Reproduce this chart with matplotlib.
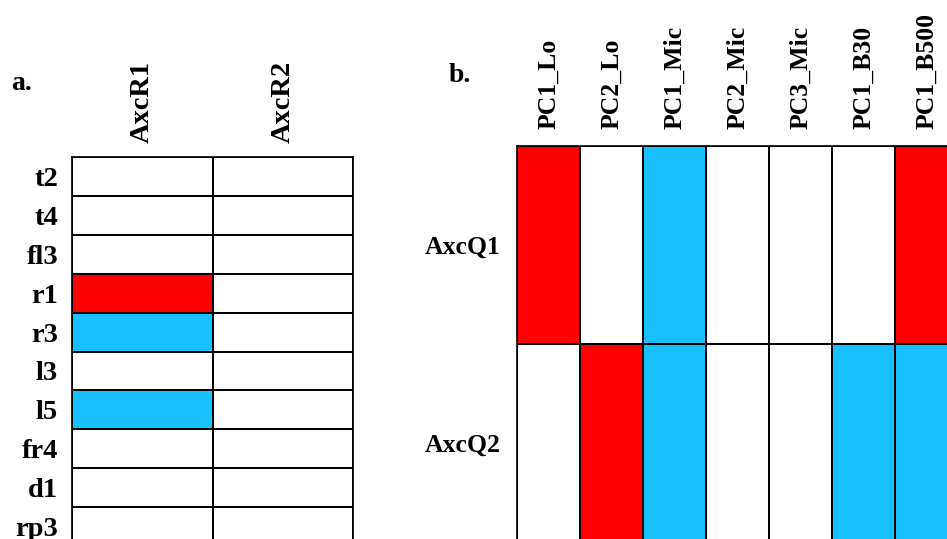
import numpy as np
import matplotlib.pyplot as plt
from matplotlib.colors import ListedColormap

# panel a
rows_a = ['t2', 't4', 'fl3', 'r1', 'r3', 'l3', 'l5', 'fr4', 'd1', 'rp3']
cols_a = ['AxcR1', 'AxcR2']
axcr1 = [0, 0, 0, 1, -1, 0, -1, 0, 0, 0]
axcr2 = [0, 0, 0, 0, 0, 0, 0, 0, 0, 0]

# panel b
rows_b = ['AxcQ1', 'AxcQ2']
cols_b = ['PC1_Lo', 'PC2_Lo', 'PC1_Mic', 'PC2_Mic', 'PC3_Mic', 'PC1_B30', 'PC1_B500']
axcq1 = [1, 0, -1, 0, 0, 0, 1]
axcq2 = [0, 1, -1, 0, 0, -1, -1]

plt.rcParams['font.family'] = ['Liberation Serif', 'DejaVu Serif']
plt.rcParams['font.weight'] = 'bold'

cmap = ListedColormap(['#17C0FF', '#FFFFFF', '#FF0000'])

W, H = 947, 539
fig = plt.figure(figsize=(W / 100, H / 100), dpi=100)


def px_axes(left, top, width, height):
    return fig.add_axes([left / W, 1 - (top + height) / H, width / W, height / H])


def grid(ax, data, rows, cols, fs, pad):
    data = np.array(data)
    ax.pcolormesh(data, cmap=cmap, vmin=-1.5, vmax=1.5, edgecolors='k', linewidth=1.2)
    ax.set_xlim(0, len(cols))
    ax.set_ylim(len(rows), 0)
    ax.xaxis.tick_top()
    ax.set_xticks(np.arange(len(cols)) + 0.5)
    ax.set_xticklabels(cols, rotation=90, fontsize=fs, fontweight='bold')
    ax.set_yticks(np.arange(len(rows)) + 0.5)
    ax.set_yticklabels(rows, fontsize=fs, fontweight='bold')
    ax.tick_params(length=0, pad=pad)
    for s in ax.spines.values():
        s.set_linewidth(1.2)


ax_a = px_axes(72, 157, 281, 389)
grid(ax_a, np.array([axcr1, axcr2]).T, rows_a, cols_a, 20.5, 10)

ax_b = px_axes(517, 145.7, 441, 396)
grid(ax_b, np.array([axcq1, axcq2]), rows_b, cols_b, 18.5, 12)

fig.text(11 / W, 1 - 83 / H, 'a.', fontsize=20, fontweight='bold', va='center', ha='left')
fig.text(449 / W, 1 - 75 / H, 'b.', fontsize=20, fontweight='bold', va='center', ha='left')

plt.savefig('out.png', dpi=100)
